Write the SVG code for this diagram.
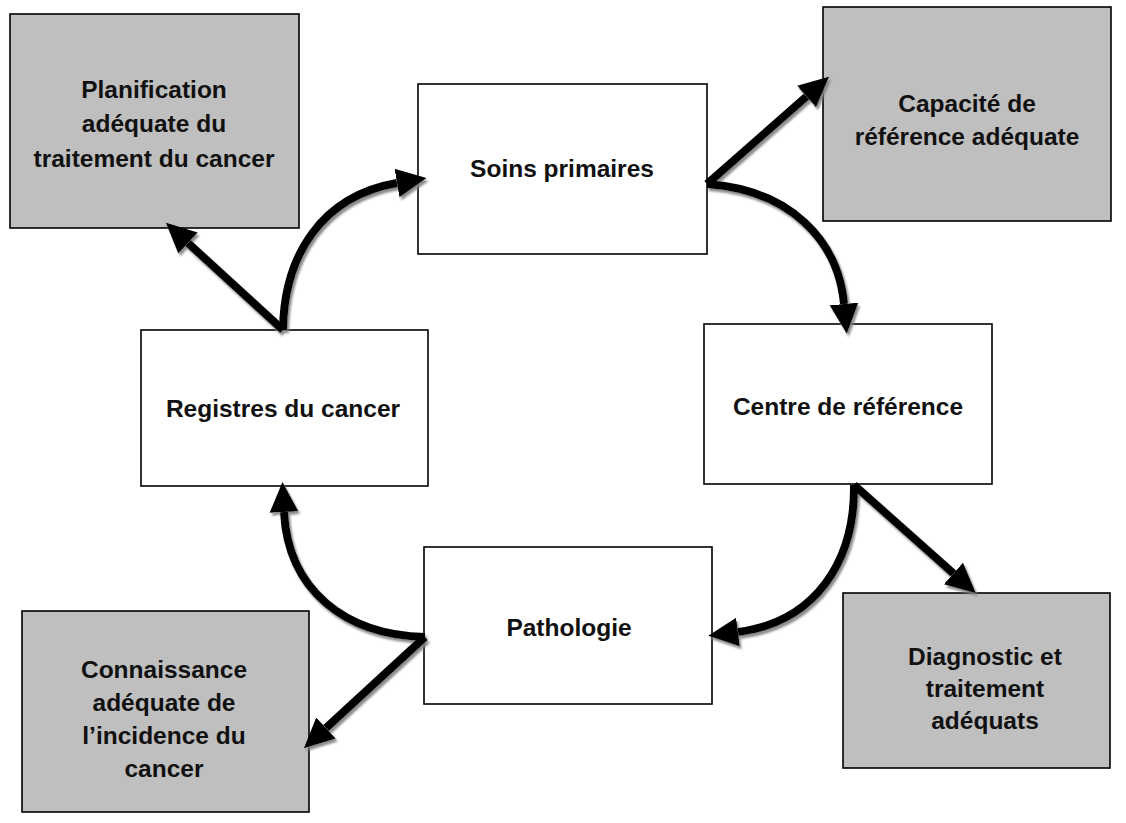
<svg xmlns="http://www.w3.org/2000/svg" width="1126" height="823" viewBox="0 0 1126 823">
<style>
.box{fill:#ffffff;stroke:#000;stroke-width:1.6}
.grey{fill:#bfbfbf;stroke:#000;stroke-width:1.6}
.t{font-family:"Liberation Sans",Arial,sans-serif;font-weight:bold;font-size:24.5px;fill:#111;text-anchor:middle}
.c{fill:none;stroke:#000;stroke-width:8}
</style>
<defs>
<marker id="ah" markerUnits="userSpaceOnUse" markerWidth="30" markerHeight="30" viewBox="0 0 24 24" refX="0" refY="12" orient="auto">
<path d="M0,0.5 L24,12 L0,23.5 Z" fill="#000"/>
</marker>
<filter id="sh" x="-20%" y="-20%" width="140%" height="140%">
<feDropShadow dx="2" dy="3" stdDeviation="1.2" flood-color="#7f7f7f" flood-opacity="0.9"/>
</filter>
</defs>
<rect width="1126" height="823" fill="#fff"/>
<g id="n-planification"><rect class="grey" x="10" y="14" width="289" height="214"/>
<text class="t" x="154" y="98">Planification</text><text class="t" x="154" y="132">adéquate du</text><text class="t" x="154" y="167">traitement du cancer</text></g>
<g id="n-capacite"><rect class="grey" x="823" y="7" width="288" height="214"/>
<text class="t" x="967" y="112">Capacité de</text><text class="t" x="967" y="145">référence adéquate</text></g>
<g id="n-soins"><rect class="box" x="418" y="84" width="289" height="170"/>
<text class="t" x="562" y="177">Soins primaires</text></g>
<g id="n-centre"><rect class="box" x="704" y="324" width="288" height="160"/>
<text class="t" x="848" y="415">Centre de référence</text></g>
<g id="n-registres"><rect class="box" x="141" y="330" width="287" height="156"/>
<text class="t" x="283" y="417">Registres du cancer</text></g>
<g id="n-pathologie"><rect class="box" x="424" y="547" width="288" height="157"/>
<text class="t" x="569" y="636">Pathologie</text></g>
<g id="n-connaissance"><rect class="grey" x="22" y="611" width="287" height="201"/>
<text class="t" x="164" y="678">Connaissance</text><text class="t" x="164" y="711">adéquate de</text><text class="t" x="164" y="744">l’incidence du</text><text class="t" x="164" y="777">cancer</text></g>
<g id="n-diagnostic"><rect class="grey" x="843" y="593" width="267" height="175"/>
<text class="t" x="985" y="665">Diagnostic et</text><text class="t" x="985" y="697">traitement</text><text class="t" x="985" y="729">adéquats</text></g>
<g id="connectors" filter="url(#sh)">
<path class="c" d="M283,330 C284,255 322,196 397,183" marker-end="url(#ah)"/>
<path class="c" d="M283,330 L188,243" marker-end="url(#ah)"/>
<path class="c" d="M707,184 L806.5,96.5" marker-end="url(#ah)"/>
<path class="c" d="M707,184 C790,190 838,240 844,304" marker-end="url(#ah)"/>
<path class="c" d="M854,485 L953.5,573.4" marker-end="url(#ah)"/>
<path class="c" d="M854,485 C855,562 815,622 738,632" marker-end="url(#ah)"/>
<path class="c" d="M425,637 C345,635 288,590 284,512" marker-end="url(#ah)"/>
<path class="c" d="M425,637 L326,728" marker-end="url(#ah)"/>
</g>
</svg>
